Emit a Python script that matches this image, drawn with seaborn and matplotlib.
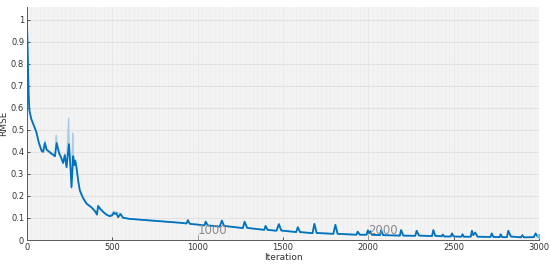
import numpy as np
import pandas as pd
import seaborn as sns
import matplotlib
matplotlib.use("Agg")
import matplotlib.pyplot as plt
from matplotlib.ticker import MultipleLocator

# Smoothed training RMSE
iters = [0, 3, 6, 10, 14, 25, 40, 55, 70, 86, 95, 105, 115, 140, 164, 174, 189, 200, 212, 222,
         232, 246, 255, 261, 271, 277, 283, 290, 300, 310, 329, 349, 378, 400, 410, 417, 430, 446,
         465, 485, 500, 508, 516, 524, 534, 548, 563, 600, 700, 800, 900, 935, 943, 955, 1000,
         1040, 1047, 1060, 1129, 1142, 1155, 1265, 1275, 1290, 1390, 1398, 1410, 1462, 1476, 1490,
         1577, 1587, 1600, 1673, 1684, 1697, 1795, 1807, 1820, 1930, 1938, 1950, 1990, 1997, 2005,
         2012, 2020, 2068, 2075, 2087, 2185, 2192, 2205, 2275, 2283, 2297, 2373, 2381, 2392, 2430,
         2436, 2445, 2483, 2490, 2500, 2545, 2552, 2560, 2600, 2607, 2615, 2626, 2640, 2716, 2723,
         2733, 2770, 2775, 2785, 2812, 2820, 2835, 2895, 2902, 2912, 2970, 2980, 2992, 3000]
rmse = [1.0, 0.9, 0.78, 0.66, 0.59, 0.55, 0.52, 0.49, 0.44, 0.405, 0.40, 0.44, 0.41, 0.395, 0.38,
        0.44, 0.393, 0.375, 0.35, 0.385, 0.33, 0.435, 0.33, 0.24, 0.38, 0.34, 0.36, 0.33, 0.27,
        0.225, 0.19, 0.165, 0.148, 0.13, 0.115, 0.154, 0.14, 0.128, 0.115, 0.108, 0.112, 0.124,
        0.118, 0.122, 0.103, 0.118, 0.101, 0.096, 0.09, 0.084, 0.078, 0.075, 0.09, 0.073, 0.07,
        0.066, 0.083, 0.066, 0.061, 0.088, 0.064, 0.054, 0.083, 0.055, 0.046, 0.064, 0.046, 0.042,
        0.072, 0.043, 0.036, 0.058, 0.036, 0.031, 0.073, 0.032, 0.028, 0.069, 0.028, 0.024, 0.038,
        0.024, 0.024, 0.044, 0.03, 0.04, 0.024, 0.022, 0.045, 0.022, 0.02, 0.045, 0.02, 0.019,
        0.042, 0.02, 0.018, 0.045, 0.019, 0.017, 0.025, 0.016, 0.016, 0.03, 0.016, 0.015, 0.026,
        0.015, 0.015, 0.042, 0.022, 0.034, 0.015, 0.014, 0.03, 0.014, 0.013, 0.026, 0.013, 0.013,
        0.042, 0.016, 0.012, 0.022, 0.012, 0.013, 0.03, 0.015, 0.02]

# Raw (unsmoothed) RMSE in the noisy early phase
raw_iters = [0, 5, 10, 15, 25, 40, 55, 70, 86, 95, 105, 115, 140, 164, 172, 176, 189, 212, 222,
             232, 244, 248, 255, 261, 268, 272, 283, 290, 300, 310, 329, 349, 378, 410, 417, 446,
             485, 508, 524, 548, 563, 600]
raw_rmse = [1.02, 0.85, 0.65, 0.58, 0.55, 0.52, 0.49, 0.44, 0.40, 0.40, 0.45, 0.41, 0.39, 0.38,
            0.475, 0.43, 0.39, 0.345, 0.39, 0.33, 0.553, 0.42, 0.33, 0.235, 0.485, 0.37, 0.36,
            0.33, 0.27, 0.22, 0.19, 0.165, 0.148, 0.115, 0.158, 0.128, 0.108, 0.13, 0.126, 0.12,
            0.1, 0.096]

x_ticks = [0, 500, 1000, 1500, 2000, 2500, 3000]
y_ticks = [0, 0.1, 0.2, 0.3, 0.4, 0.5, 0.6, 0.7, 0.8, 0.9, 1.0]
y_tick_labels = ["0", "0.1", "0.2", "0.3", "0.4", "0.5", "0.6", "0.7", "0.8", "0.9", "1"]
epoch_marks = [1000, 2000]

sns.set_theme(style="white")
plt.rcParams['font.family'] = ['DejaVu Sans']

fig = plt.figure(figsize=(5.5, 2.65), dpi=100)
ax = fig.add_axes([0.049, 0.0943, 0.931, 0.8793])
ax.set_facecolor("#f3f3f3")

# raw series (late part same as smoothed)
late = [(i, r) for i, r in zip(iters, rmse) if i > 600]
raw_df = pd.DataFrame({"Iteration": raw_iters + [i for i, _ in late],
                       "RMSE": raw_rmse + [r for _, r in late]})
sm_df = pd.DataFrame({"Iteration": iters, "RMSE": rmse})

sns.lineplot(data=raw_df, x="Iteration", y="RMSE", ax=ax, color="#a9cde8", lw=1.0, zorder=2)
sns.lineplot(data=sm_df, x="Iteration", y="RMSE", ax=ax, color="#0072BD", lw=1.3, zorder=3)
ax.plot([3000], [0.02], 'o', color="#7fb8e0", ms=2.5, zorder=4)

for m in epoch_marks:
    ax.plot([m, m], [0, 0.022], color="#9a9a9a", lw=0.7, zorder=1)
    ax.text(m, 0.045, str(m), fontsize=8.5, color="#8a8a8a", ha="left", va="center", zorder=5)

ax.set_xlim(0, 3000)
ax.set_ylim(0, 1.057)
ax.set_xticks(x_ticks)
ax.set_xticklabels([str(t) for t in x_ticks])
ax.set_yticks(y_ticks)
ax.set_yticklabels(y_tick_labels)
ax.xaxis.set_minor_locator(MultipleLocator(25))
ax.grid(True, which="major", axis="y", color="#e2e2e2", lw=0.8)
ax.grid(True, which="major", axis="x", color="#e6e6e6", lw=0.6)
ax.grid(True, which="minor", axis="x", color="#ececec", lw=0.4)
ax.set_axisbelow(True)

for s in ["top", "right"]:
    ax.spines[s].set_visible(False)
for s in ["left", "bottom"]:
    ax.spines[s].set_color("#5a5a5a")
    ax.spines[s].set_linewidth(0.7)

ax.tick_params(axis="both", which="major", labelsize=6, colors="#333333", length=2.5,
               width=0.6, direction="in", pad=2)
ax.tick_params(axis="both", which="minor", length=0)
ax.tick_params(axis="x", bottom=True)
ax.tick_params(axis="y", left=True)
ax.set_xlabel("Iteration", fontsize=6.5, color="#333333", labelpad=1)
ax.set_ylabel("RMSE", fontsize=6.5, color="#333333", labelpad=2)

fig.savefig("out.png", dpi=100)
